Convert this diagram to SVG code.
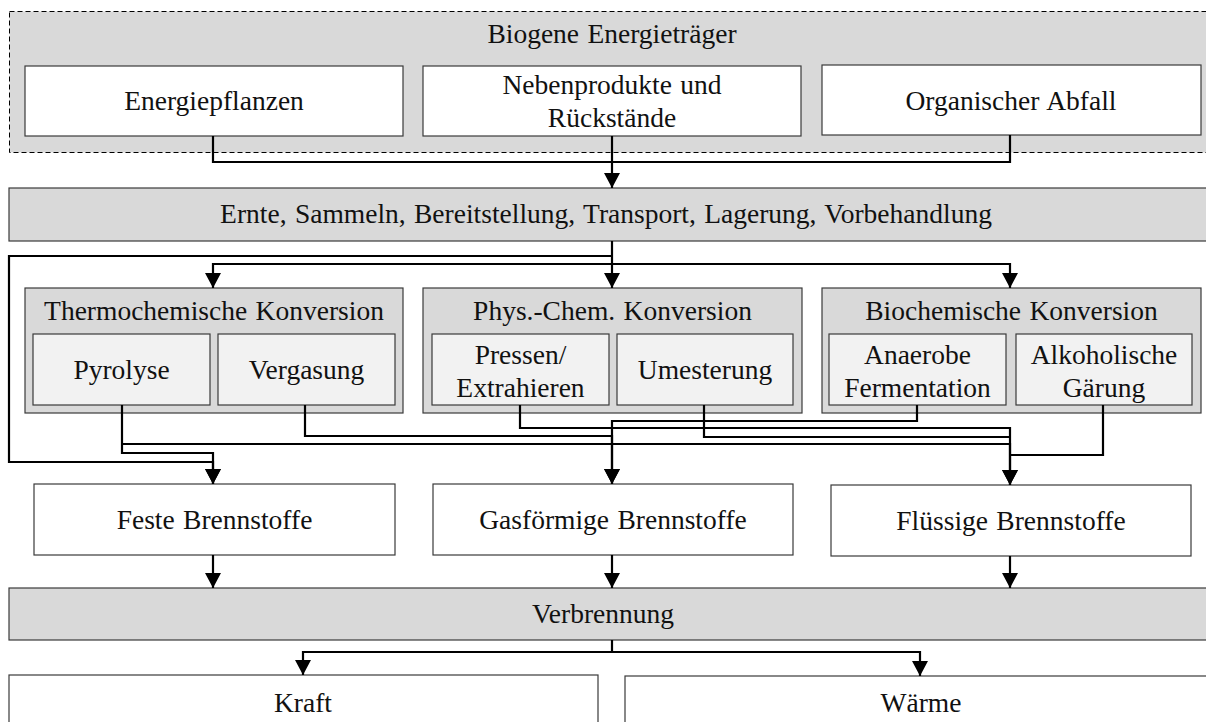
<svg xmlns="http://www.w3.org/2000/svg" width="1206" height="722" viewBox="0 0 1206 722">
<defs>
<style>
text{font-family:"Liberation Serif","Times New Roman",serif;font-size:27.5px;word-spacing:1.5px;fill:#111;text-anchor:middle}
.grp{fill:#d9d9d9;stroke:#3a3a3a;stroke-width:1.2}
.wbox{fill:#ffffff;stroke:#3a3a3a;stroke-width:1.2}
.sub{fill:#f2f2f2;stroke:#3a3a3a;stroke-width:1.2}
.dash{fill:#d9d9d9;stroke:#000;stroke-width:1;stroke-dasharray:5 3}
.c{fill:none;stroke:#000;stroke-width:2.2}
.a{marker-end:url(#ah)}
</style>
<marker id="ah" markerUnits="userSpaceOnUse" markerWidth="16" markerHeight="16" viewBox="0 0 16 16" refX="15" refY="8" orient="auto">
<path d="M0,0 L15,8 L0,16 z" fill="#000"/>
</marker>
</defs>
<rect width="1206" height="722" fill="#fff"/>

<g id="biogene">
<rect class="dash" x="9.5" y="11.5" width="1210" height="141"/>
<text x="612" y="43">Biogene Energieträger</text>
</g>
<g id="energiepflanzen">
<rect class="wbox" x="25" y="66" width="378" height="70"/>
<text x="214" y="110">Energiepflanzen</text>
</g>
<g id="nebenprodukte">
<rect class="wbox" x="423" y="66" width="378" height="70"/>
<text x="612" y="94">Nebenprodukte und</text>
<text x="612" y="127">Rückstände</text>
</g>
<g id="abfall">
<rect class="wbox" x="822" y="65" width="379" height="70"/>
<text x="1011" y="110">Organischer Abfall</text>
</g>

<g id="ernte">
<rect class="grp" x="9" y="188" width="1210" height="53"/>
<text x="606" y="223">Ernte, Sammeln, Bereitstellung, Transport, Lagerung, Vorbehandlung</text>
</g>

<g id="thermo">
<rect class="grp" x="25" y="288" width="378" height="125"/>
<text x="214" y="320">Thermochemische Konversion</text>
</g>
<g id="pyrolyse">
<rect class="sub" x="33" y="334" width="177" height="71"/>
<text x="121.5" y="379">Pyrolyse</text>
</g>
<g id="vergasung">
<rect class="sub" x="218" y="334" width="177" height="71"/>
<text x="306.5" y="379">Vergasung</text>
</g>

<g id="physchem">
<rect class="grp" x="423" y="288" width="379" height="125"/>
<text x="612.5" y="320">Phys.-Chem. Konversion</text>
</g>
<g id="pressen">
<rect class="sub" x="432" y="334" width="177" height="71"/>
<text x="520.5" y="364">Pressen/</text>
<text x="520.5" y="397">Extrahieren</text>
</g>
<g id="umesterung">
<rect class="sub" x="617" y="334" width="176" height="71"/>
<text x="705" y="379">Umesterung</text>
</g>

<g id="biochem">
<rect class="grp" x="822" y="288" width="379" height="125"/>
<text x="1011.5" y="320">Biochemische Konversion</text>
</g>
<g id="anaerobe">
<rect class="sub" x="829" y="334" width="177" height="71"/>
<text x="917.5" y="364">Anaerobe</text>
<text x="917.5" y="397">Fermentation</text>
</g>
<g id="alkoholisch">
<rect class="sub" x="1016" y="334" width="176" height="71"/>
<text x="1104" y="364">Alkoholische</text>
<text x="1104" y="397">Gärung</text>
</g>

<g id="feste">
<rect class="wbox" x="34" y="484" width="361" height="71"/>
<text x="214.5" y="529">Feste Brennstoffe</text>
</g>
<g id="gasfoermige">
<rect class="wbox" x="433" y="484" width="360" height="71"/>
<text x="613" y="529">Gasförmige Brennstoffe</text>
</g>
<g id="fluessige">
<rect class="wbox" x="831" y="485" width="360" height="71"/>
<text x="1011" y="530">Flüssige Brennstoffe</text>
</g>

<g id="verbrennung">
<rect class="grp" x="9" y="588" width="1210" height="52"/>
<text x="603" y="623">Verbrennung</text>
</g>
<g id="kraft">
<rect class="wbox" x="9" y="675" width="589" height="60"/>
<text x="303" y="712">Kraft</text>
</g>
<g id="waerme">
<rect class="wbox" x="625" y="676" width="594" height="60"/>
<text x="921" y="712">Wärme</text>
</g>

<g id="connectors">
<path class="c" d="M213,136 V162 H1010 V135"/>
<path class="c a" d="M612,136 V188"/>
<path class="c a" d="M612,241 V288"/>
<path class="c a" d="M612,264 H213 V288"/>
<path class="c a" d="M612,264 H1010 V288"/>
<path class="c a" d="M612,256 H9 V462 H213 V484"/>
<path class="c a" d="M122,405 V453 H213 V484"/>
<path class="c a" d="M122,444 H1010 V485"/>
<path class="c a" d="M305,405 V436 H612 V484"/>
<path class="c a" d="M520,405 V428 H1010 V485"/>
<path class="c" d="M704,405 V437 H1010"/>
<path class="c a" d="M917,405 V421 H612 V484"/>
<path class="c" d="M1103,405 V455 H1010"/>
<path class="c a" d="M213,555 V588"/>
<path class="c a" d="M612,555 V588"/>
<path class="c a" d="M1010,556 V588"/>
<path class="c a" d="M612,640 V652 H303 V675"/>
<path class="c a" d="M612,652 H920 V676"/>
</g>
</svg>
